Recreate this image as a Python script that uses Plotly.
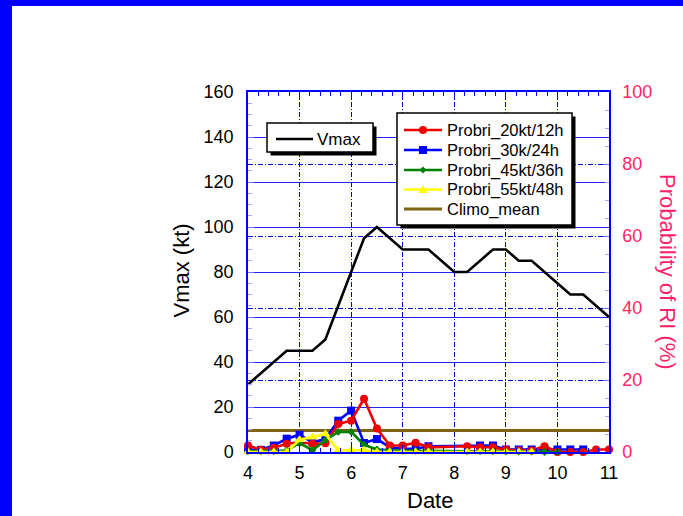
import plotly.graph_objects as go

# 6-hourly analysis times (day of month)
days = [4.0, 4.25, 4.5, 4.75, 5.0, 5.25, 5.5, 5.75, 6.0, 6.25, 6.5, 6.75, 7.0, 7.25,
        7.5, 7.75, 8.0, 8.25, 8.5, 8.75, 9.0, 9.25, 9.5, 9.75, 10.0, 10.25, 10.5,
        10.75, 11.0]

# Maximum sustained wind (kt)
vmax = [30, 35, 40, 45, 45, 45, 50, 65, 80, 95, 100, 95, 90, 90,
        90, 85, 80, 80, 85, 90, 90, 85, 85, 80, 75, 70, 70,
        65, 60]

# Rapid-intensification probabilities (%)
p20_12 = [1.8, 0.6, 1.2, 2.3, 2.7, 2.3, 2.4, 7.8, 8.7, 14.8, 6.5, 1.8, 1.8, 2.6,
          1.3, None, None, 1.6, 1.3, 1.3, 0.6, 0.4, 0.4, 1.6, 0.0, 0.0, 0.0,
          0.7, 0.7]
p30_24 = [0.6, 0.6, 1.8, 3.7, 4.8, 2.7, 3.6, 8.7, 11.5, 2.5, 3.6, 1.3, 0.9, 0.9,
          1.6, None, None, None, 1.8, 1.8, 0.7, 0.7, 0.7, 0.7, 0.7, 0.7, 0.7,
          None, None]
p45_36 = [0.2, 0.2, 0.2, 0.4, 2.5, 0.5, 3.3, 5.6, 5.6, 2.0, 0.7, 0.4, 0.3, 0.3,
          0.3, None, None, 0.2, 0.2, 0.2, 0.1, 0.1, 0.1, 0.0, 0.0, None, None,
          None, None]
p55_48 = [0.0, 0.0, 0.0, 0.0, 3.4, 4.1, 5.0, 0.5, 0.5, 0.5, 0.0, 0.0, 0.0, 0.0,
          0.0, None, None, 0.0, 0.0, 0.0, 0.0, 0.0, 0.0, None, None, None, None,
          None, None]
climo_days = [4.0, 11.0]
climo_mean = [6.0, 6.0]

FONT = "Liberation Sans, Arial, sans-serif"
PINK = "#ff1f6a"
BLUE = "#0000ff"

W, H = 683, 516
L, R, T, B = 248, 609, 92, 452


def px(x):
    return (x - L) / (R - L)


def py(y):
    return (B - y) / (B - T)


fig = go.Figure()

fig.add_trace(go.Scatter(x=days, y=vmax, mode="lines", name="Vmax",
                         line=dict(color="black", width=2.6), yaxis="y"))
fig.add_trace(go.Scatter(x=climo_days, y=climo_mean, mode="lines", name="Climo_mean",
                         line=dict(color="#806414", width=3), yaxis="y2"))
series = [
    ("Probri_30k/24h", p30_24, BLUE, "square", 8),
    ("Probri_20kt/12h", p20_12, "#ee0000", "circle", 8),
    ("Probri_45kt/36h", p45_36, "#008000", "diamond", 6),
    ("Probri_55kt/48h", p55_48, "#ffff00", "triangle-up", 9),
]
for name, vals, col, sym, size in series:
    fig.add_trace(go.Scatter(x=days, y=vals, mode="lines+markers", name=name,
                             connectgaps=True, cliponaxis=False,
                             line=dict(color=col, width=2.6),
                             marker=dict(symbol=sym, size=size, color=col,
                                         line=dict(width=0)),
                             yaxis="y2"))

shapes = []
annotations = []

# blue border strips
shapes.append(dict(type="rect", xref="paper", yref="paper", x0=px(0), x1=px(W),
                   y0=py(6), y1=py(0), fillcolor=BLUE, line=dict(width=0)))
shapes.append(dict(type="rect", xref="paper", yref="paper", x0=px(0), x1=px(12),
                   y0=py(H), y1=py(0), fillcolor=BLUE, line=dict(width=0)))


def box(x0, y0, x1, y1):
    shapes.append(dict(type="rect", xref="paper", yref="paper",
                       x0=px(x0 + 3.5), x1=px(x1 + 3.5), y0=py(y1 + 3.5), y1=py(y0 + 3.5),
                       fillcolor="black", line=dict(width=0), layer="above"))
    shapes.append(dict(type="rect", xref="paper", yref="paper",
                       x0=px(x0), x1=px(x1), y0=py(y1), y1=py(y0),
                       fillcolor="white", line=dict(color="black", width=1.5),
                       layer="above"))


def sample_line(x0, x1, y, col, width=2.6):
    shapes.append(dict(type="line", xref="paper", yref="paper",
                       x0=px(x0), x1=px(x1), y0=py(y), y1=py(y),
                       line=dict(color=col, width=width), layer="above"))


def path_shape(pts, col):
    d = "M " + " L ".join(f"{px(a):.5f},{py(b):.5f}" for a, b in pts) + " Z"
    shapes.append(dict(type="path", xref="paper", yref="paper", path=d,
                       fillcolor=col, line=dict(width=0), layer="above"))


def label(x, y, text, size=16.5, color="black"):
    annotations.append(dict(x=px(x), y=py(y), xref="paper", yref="paper",
                            text=text, showarrow=False, xanchor="left",
                            yanchor="middle", font=dict(family=FONT, size=size,
                                                        color=color)))


# Vmax key
box(267, 123, 373, 152)
sample_line(276, 313, 139, "black")
label(315, 139, "Vmax", size=17)

# probability key
box(397, 113, 572, 225)
rows = [130, 150, 170, 189.5, 209]
key = [("Probri_20kt/12h", "#ee0000", "circle"),
       ("Probri_30k/24h", BLUE, "square"),
       ("Probri_45kt/36h", "#008000", "diamond"),
       ("Probri_55kt/48h", "#ffff00", "triangle"),
       ("Climo_mean", "#806414", None)]
cx = 423
for (text, col, sym), yy in zip(key, rows):
    sample_line(404, 442, yy, col, 2.6 if sym else 3)
    if sym == "circle":
        shapes.append(dict(type="circle", xref="paper", yref="paper",
                           x0=px(cx - 4), x1=px(cx + 4), y0=py(yy + 4), y1=py(yy - 4),
                           fillcolor=col, line=dict(width=0), layer="above"))
    elif sym == "square":
        path_shape([(cx - 4, yy - 4), (cx + 4, yy - 4), (cx + 4, yy + 4), (cx - 4, yy + 4)], col)
    elif sym == "diamond":
        path_shape([(cx, yy - 3.5), (cx + 3.5, yy), (cx, yy + 3.5), (cx - 3.5, yy)], col)
    elif sym == "triangle":
        path_shape([(cx, yy - 4.5), (cx + 4.5, yy + 3.5), (cx - 4.5, yy + 3.5)], col)
    label(445, yy, text)

# axis titles
annotations.append(dict(x=px(166), y=py(271), xref="paper", yref="paper",
                        xanchor="left", yanchor="middle",
                        text="Vmax (kt)", showarrow=False, textangle=-90,
                        font=dict(family=FONT, size=22, color="black")))
annotations.append(dict(x=px(668), y=py(272), xref="paper", yref="paper",
                        xanchor="center", yanchor="middle",
                        text="Probability of RI (%)", showarrow=False, textangle=90,
                        font=dict(family=FONT, size=22, color=PINK)))
annotations.append(dict(x=px(430), y=py(500), xref="paper", yref="paper",
                        xanchor="center", yanchor="middle",
                        text="Date", showarrow=False,
                        font=dict(family=FONT, size=22, color="black")))

DASH = "5px,2px,1px,2px"

fig.update_layout(
    width=W, height=H,
    margin=dict(l=L, r=W - R, t=T, b=H - B, pad=0),
    paper_bgcolor="white", plot_bgcolor="white",
    showlegend=False,
    font=dict(family=FONT, size=18, color="black"),
    xaxis=dict(range=[4, 11], tick0=4, dtick=1, ticks="inside", ticklen=7,
               tickcolor=BLUE, tickwidth=1, showline=True, linecolor=BLUE,
               linewidth=1.5, mirror="ticks", showgrid=True, gridcolor="#0000cc",
               gridwidth=1, griddash=DASH, zeroline=False,
               tickfont=dict(size=18, color="black"), ticklabelstandoff=4,
               minor=dict(dtick=0.2, ticks="inside", ticklen=4, tickcolor=BLUE,
                          showgrid=False)),
    yaxis=dict(range=[0, 160], dtick=20, ticks="inside", ticklen=6,
               tickcolor="#6f6fff", showline=True, linecolor=BLUE, linewidth=1.5,
               showgrid=True, gridcolor="#2424f0", gridwidth=1, zeroline=False,
               tickfont=dict(size=18, color="black"), ticklabelstandoff=9,
               minor=dict(dtick=5, ticks="inside", ticklen=4, tickcolor="#a8a8ff",
                          showgrid=False)),
    yaxis2=dict(range=[0, 100], dtick=20, overlaying="y", side="right",
                ticks="inside", ticklen=6, tickcolor="#6f6fff", showline=True,
                linecolor=BLUE, linewidth=1.5, showgrid=True, gridcolor="#0000cc",
                gridwidth=1, griddash=DASH, zeroline=False,
                tickfont=dict(size=18, color=PINK), ticklabelstandoff=8,
                minor=dict(dtick=5, ticks="inside", ticklen=4, tickcolor="#a8a8ff",
                           showgrid=False)),
    shapes=shapes,
    annotations=annotations,
)

fig.write_html("out.html")
